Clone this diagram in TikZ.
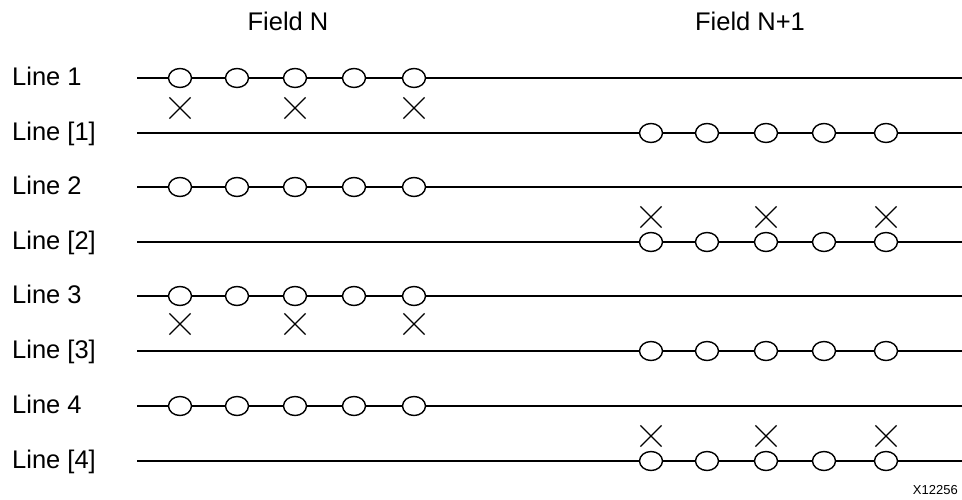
\documentclass[tikz,border=0pt]{standalone}
\usepackage{fontspec}
\setmainfont{Liberation Sans}
\usetikzlibrary{shapes.geometric}
\usetikzlibrary{shapes.misc}

\tikzset{
  field/.style={font=\fontsize{25.5}{29}\selectfont, anchor=base, inner sep=0},
  linelbl/.style={font=\fontsize{25.5}{29}\selectfont, anchor=base west, inner sep=0},
  wire/.style={line width=2.5pt},
  pixel/.style={draw, ellipse, fill=white, line width=1.4pt, minimum width=23pt, minimum height=19pt, inner sep=0},
  drop/.style={draw, cross out, line width=1.2pt, minimum size=20pt, inner sep=0},
}

\begin{document}
\begin{tikzpicture}[x=1pt,y=-1pt]
\useasboundingbox (0,0) rectangle (962,500);
\node[field] (fieldN) at (288,30.5) {Field N};
\node[field] (fieldNN) at (750,30.5) {Field N+1};
% rows: label, wire from (s) to (e)
\foreach \r/\txt/\y in {1/{Line 1}/78, 2/{Line [1]}/133, 3/{Line 2}/187, 4/{Line [2]}/242,
                        5/{Line 3}/296, 6/{Line [3]}/351, 7/{Line 4}/406, 8/{Line [4]}/461} {
 \node[linelbl] (lbl\r) at (12,\y+7.5) {\txt};
 \coordinate (s\r) at (137,\y);
 \coordinate (e\r) at (962,\y);
 \draw[wire] (s\r) -- (e\r);
}
% samples of field N
\foreach \r/\y in {1/78, 3/187, 5/296, 7/406} {
 \foreach \x [count=\i] in {180,237,295,354,414}
  \node[pixel] (p\r\i) at (\x,\y) {};
}
% samples of field N+1
\foreach \r/\y in {2/133, 4/242, 6/351, 8/461} {
 \foreach \x [count=\i] in {651,707,766,824,886}
  \node[pixel] (p\r\i) at (\x,\y) {};
}
% dropped samples
\foreach \x [count=\i] in {180,295,414} {
 \node[drop] (xa\i) at (\x,108) {};
 \node[drop] (xc\i) at (\x,324) {};
}
\foreach \x [count=\i] in {651,766,886} {
 \node[drop] (xb\i) at (\x,217) {};
 \node[drop] (xd\i) at (\x,436) {};
}
\node[anchor=base east, font=\fontsize{13}{15}\selectfont, inner sep=0] (figid) at (958,494) {X12256};
\end{tikzpicture}
\end{document}
